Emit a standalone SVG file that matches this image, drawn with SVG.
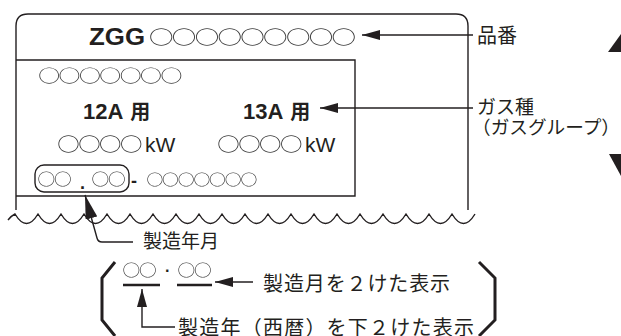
<svg xmlns="http://www.w3.org/2000/svg" width="621" height="336" viewBox="0 0 621 336">
<style>
.ln{fill:none;stroke:#231f20;stroke-width:1.4}
.br{fill:none;stroke:#231f20;stroke-width:3;stroke-linejoin:miter}
.jp{font-family:"Noto Sans CJK JP","Noto Sans",sans-serif;fill:#231f20}
.c{font-family:"Noto Sans CJK JP",sans-serif;fill:#3a3a3a}
.b{font-family:"Liberation Sans",Arial,sans-serif;font-weight:bold;fill:#231f20}
.r{font-family:"Liberation Sans",Arial,sans-serif;fill:#231f20}
.g{filter:url(#gray)}
</style>
<defs>
<filter id="gray" x="-5%" y="-20%" width="110%" height="140%" color-interpolation-filters="sRGB">
<feColorMatrix type="saturate" values="0"/>
</filter>
<marker id="ah" markerUnits="userSpaceOnUse" markerWidth="18" markerHeight="10" refX="18" refY="5" orient="auto-start-reverse" viewBox="0 0 18 10">
<path d="M0,0 L18,5 L0,10 z" fill="#231f20"/>
</marker>
<marker id="ah2" markerUnits="userSpaceOnUse" markerWidth="24" markerHeight="12" refX="24" refY="6" orient="auto-start-reverse" viewBox="0 0 24 12">
<path d="M0,0 L24,6 L0,12 z" fill="#231f20"/>
</marker>
</defs>
<g id="plate">
<path class="ln" d="M16,210 V26 Q16,14 28,14 H456 Q468,14 468,26 V210"/>
<path class="ln" d="M16,60 H355 V196 H16"/>
<path class="ln" d="M8,220 Q11,216 15,214 Q26.5,233 38,214 Q49.5,233 61,214 Q72.5,233 84,214 Q95.5,233 107,214 Q118.5,233 130,214 Q141.5,233 153,214 Q164.5,233 176,214 Q187.5,233 199,214 Q210.5,233 222,214 Q233.5,233 245,214 Q256.5,233 268,214 Q279.5,233 291,214 Q302.5,233 314,214 Q325.5,233 337,214 Q348.5,233 360,214 Q371.5,233 383,214 Q394.5,233 406,214 Q417.5,233 429,214 Q440.5,233 452,214 Q463.5,233 475,214"/>
</g>
<g id="row1">
<text class="b" x="89" y="45" font-size="23" textLength="56" lengthAdjust="spacingAndGlyphs">ZGG</text>
<g class="g"><text class="c" transform="translate(149,43.8) scale(1.32,1)" font-size="18.6" letter-spacing="-1.3">○○○○○○○○○</text></g>
</g>
<g id="row2" class="g">
<text class="c" transform="translate(38.2,81.5) scale(1.275,1)" font-size="17.2" letter-spacing="-1.2">○○○○○○○</text>
</g>
<g id="row3">
<text class="b" x="83" y="119" font-size="22">12A<tspan class="jp" font-weight="bold" font-size="20" dx="7">用</tspan></text>
<text class="b" x="243" y="119" font-size="22">13A<tspan class="jp" font-weight="bold" font-size="20" dx="7">用</tspan></text>
</g>
<g id="row4">
<g class="g"><text class="c" transform="translate(57.2,150.7) scale(1.27,1)" font-size="17.7" letter-spacing="-1.2">○○○○</text></g>
<text class="r" x="145" y="152" font-size="21">kW</text>
<g class="g"><text class="c" transform="translate(217.2,150.7) scale(1.27,1)" font-size="17.7" letter-spacing="-1.2">○○○○</text></g>
<text class="r" x="305" y="152" font-size="21">kW</text>
</g>
<g id="row5">
<rect x="35" y="165" width="94" height="27" rx="9" class="ln" stroke-width="1.8"/>
<g class="g"><text class="c" transform="translate(37.4,184.6) scale(1.1,1)" font-size="16.1" letter-spacing="-1.1">○○</text></g>
<text class="b" x="80" y="189" font-size="18">.</text>
<g class="g"><text class="c" transform="translate(91.4,184.6) scale(1.1,1)" font-size="16.1" letter-spacing="-1.1">○○</text></g>
<text class="b" x="131" y="187" font-size="18">-</text>
<g class="g"><text class="c" transform="translate(146.4,184.7) scale(1.12,1)" font-size="15.05" letter-spacing="-1.05">○○○○○○○</text></g>
</g>
<g id="label-hinban"><text class="jp" x="477" y="43" font-size="20">品番</text></g>
<g id="label-gas">
<text class="jp" font-size="19"><tspan x="477" y="113.5">ガス種</tspan><tspan x="472" y="133.5" font-size="18.5" textLength="148" lengthAdjust="spacingAndGlyphs">（ガスグループ）</tspan></text>
</g>
<g id="label-date"><text class="jp" x="143" y="248" font-size="19">製造年月</text></g>
<g id="legend">
<path class="br" d="M115,262 L102,278 V320 L115,336"/>
<path class="br" d="M479,262 L495,278 V320 L479,336"/>
<g class="g"><text class="c" transform="translate(122.4,275.6) scale(1.1,1)" font-size="16.1" letter-spacing="-1.1">○○</text></g>
<text class="b" x="165" y="276" font-size="16">·</text>
<g class="g"><text class="c" transform="translate(177.4,275.6) scale(1.1,1)" font-size="16.1" letter-spacing="-1.1">○○</text></g>
<line x1="123" y1="285" x2="160" y2="285" stroke="#231f20" stroke-width="2.5"/>
<line x1="177" y1="285" x2="212" y2="285" stroke="#231f20" stroke-width="2.5"/>
<text class="jp" x="263" y="291" font-size="20" textLength="187" lengthAdjust="spacing">製造月を２けた表示</text>
<text class="jp" x="178" y="335" font-size="20" textLength="296" lengthAdjust="spacing">製造年（西暦）を下２けた表示</text>
</g>
<g id="triangles">
<polygon points="608,52 621,34 621,52" fill="#231f20"/>
<polygon points="609,154 621,154 621,176" fill="#231f20"/>
</g>
<g id="connectors">
<path class="ln" d="M362,35 H473" marker-start="url(#ah)"/>
<path class="ln" d="M320,108 H473" marker-start="url(#ah)"/>
<path class="ln" d="M85,195 L97,238 Q98,242 102,242 H133" stroke-width="1.8" marker-start="url(#ah2)"/>
<path class="ln" d="M215,282 H253" stroke-width="2" marker-start="url(#ah)"/>
<path class="ln" d="M142,289 V327 H175" stroke-width="2" marker-start="url(#ah)"/>
</g>
</svg>
